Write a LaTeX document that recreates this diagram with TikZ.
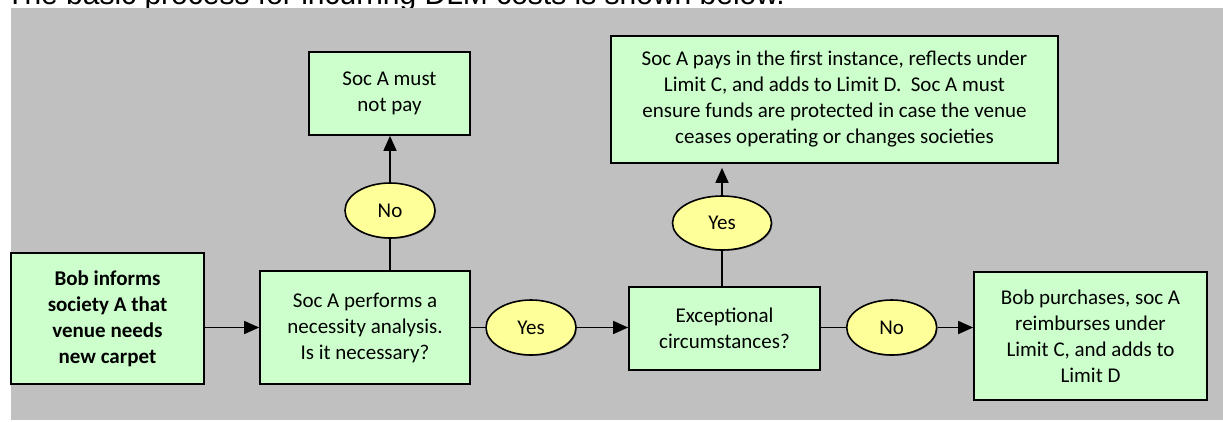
\documentclass[tikz,border=0pt]{standalone}
\usepackage{fontspec}
\setmainfont{Carlito}
\newfontfamily\arialfont{Liberation Sans}
\usetikzlibrary{shapes.geometric,arrows.meta,shadows}
\definecolor{panelgray}{HTML}{C0C0C0}
\definecolor{boxgreen}{HTML}{CCFFCC}
\definecolor{ovalyellow}{HTML}{FFFF99}
\begin{document}
\begin{tikzpicture}[x=1pt,y=-1pt,
  box/.style={draw,line width=1.7pt,fill=boxgreen,align=center,inner sep=0pt,
    font=\fontsize{21}{26}\selectfont,
    drop shadow={shadow xshift=1.3pt,shadow yshift=-1.3pt,fill=black!60,opacity=1}},
  oval/.style={ellipse,draw,line width=1.6pt,fill=ovalyellow,inner sep=0pt,
    minimum width=90pt,minimum height=55pt,font=\fontsize{21}{26}\selectfont,
    drop shadow={shadow xshift=1pt,shadow yshift=-1pt,fill=black!50,opacity=1}},
  link/.style={line width=1.6pt},
  arr/.style={link,-{Triangle[length=15pt,width=13pt]}}]
%
% page and grey panel
\useasboundingbox (0,0) rectangle (1223,421);
\clip (0,0) rectangle (1223,421);
\node[anchor=base west,inner sep=0pt,font=\arialfont\fontsize{30}{36}\selectfont] (title) at (6,4.7)
  {The basic process for incurring DLM costs is shown below.};
\fill[panelgray] (11,8) rectangle (1223,420);
%
% boxes
\node[box,minimum width=193pt,minimum height=131pt,font=\fontsize{21}{26}\selectfont\bfseries] (bob) at (107.5,318.5)
  {Bob informs\\society A that\\venue needs\\new carpet};
\node[box,minimum width=210pt,minimum height=113pt] (analysis) at (365,327.5)
  {Soc A performs a\\necessity analysis.\\Is it necessary?};
\node[box,minimum width=161pt,minimum height=83pt] (notpay) at (389.5,93.5)
  {Soc A must\\not pay};
\node[box,minimum width=191pt,minimum height=83pt] (exceptional) at (724.5,328.5)
  {Exceptional\\circumstances?};
\node[box,minimum width=447pt,minimum height=127pt] (pays) at (834.5,99.5)
  {Soc A pays in the first instance, reflects under\\Limit C, and adds to Limit D.\ \ Soc A must\\ensure funds are protected in case the venue\\ceases operating or changes societies};
\node[box,minimum width=233pt,minimum height=128pt] (purchase) at (1090.5,336)
  {Bob purchases, soc A\\reimburses under\\Limit C, and adds to\\Limit D};
%
% answers
\node[oval] (noA) at (390,210.5) {No};
\node[oval] (yesA) at (531,327.5) {Yes};
\node[oval,minimum width=99pt,minimum height=54pt] (yesB) at (722,223) {Yes};
\node[oval] (noB) at (891.7,327.5) {No};
%
% connectors
\draw[arr] (bob.east |- analysis.west) -- (analysis.west);
\draw[link] (analysis.north -| noA) -- (noA);
\draw[arr] (noA) -- (notpay.south -| noA);
\draw[link] (analysis.east |- yesA) -- (yesA);
\draw[arr] (yesA.east) -- (yesA.east -| exceptional.west);
\draw[link] (exceptional.north -| yesB) -- (yesB);
\draw[arr] (yesB) -- ([yshift=-4pt]pays.south -| yesB);
\draw[link] (exceptional.east |- noB) -- (noB);
\draw[arr] (noB.east) -- (noB.east -| purchase.west);
%
\end{tikzpicture}
\end{document}
